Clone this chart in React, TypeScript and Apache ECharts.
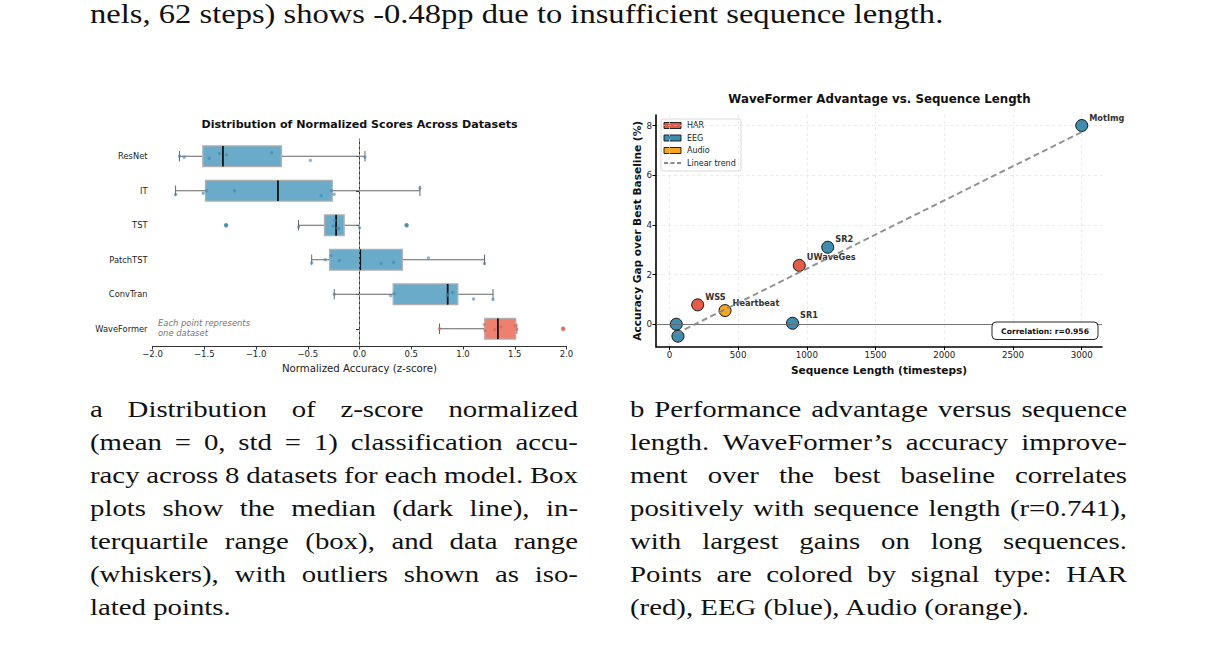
import React, { useEffect, useRef } from "react";
import * as echarts from "echarts";

// ---- Panel (a): z-score normalized accuracy per model (one value per dataset) ----
const models = ["ResNet", "IT", "TST", "PatchTST", "ConvTran", "WaveFormer"];
const resnetScores = [-1.739, -1.694, -1.453, -1.353, -1.286, -0.848, -0.475, 0.053];
const itScores = [-1.777, -1.51, -1.48, -1.206, -0.37, -0.27, -0.245, 0.584];
const tstScores = [-1.289, -0.589, -0.254, -0.237, -0.215, -0.198, 0.0, 0.455];
const patchTstScores = [-0.462, -0.33, -0.275, -0.195, 0.208, 0.33, 0.665, 1.208];
const convTranScores = [-0.244, 0.302, 0.334, 0.848, 0.856, 0.899, 1.102, 1.29];
const waveFormerScores = [0.773, 1.205, 1.212, 1.306, 1.368, 1.505, 1.52, 1.968];

// strip-plot vertical jitter, as a fraction of the category band
const stripJitter = [
  [0, 0.03, 0.06, -0.08, -0.04, -0.1, 0.12, 0.03],
  [0.11, 0.07, 0, 0, 0.14, 0, 0.1, -0.07],
  [0, 0.05, 0.02, -0.14, 0.08, 0.1, 0.07, 0],
  [0.09, 0, -0.12, 0.02, 0.11, 0.08, -0.05, 0.11],
  [0, 0.04, -0.02, 0.04, 0.0, -0.05, 0.14, 0.15],
  [0, -0.12, 0.05, 0.02, -0.05, -0.08, 0.02, 0],
];

// ---- Panel (b): accuracy gap vs sequence length ----
const datasetLabels = ["", "", "WSS", "Heartbeat", "SR1", "UWaveGes", "SR2", "MotImg"];
const seqLength = [50, 62, 206, 405, 896, 945, 1152, 3000];
const accuracyGap = [0.0, -0.48, 0.78, 0.55, 0.04, 2.37, 3.1, 8.0];
const signalType = ["EEG", "EEG", "HAR", "Audio", "EEG", "HAR", "EEG", "EEG"];
const signalTypes = ["HAR", "EEG", "Audio"];
const seqTicks = [0, 500, 1000, 1500, 2000, 2500, 3000];
const gapTicks = [0, 2, 4, 6, 8];

const SANS = "'DejaVu Sans', sans-serif";
const SERIF = "'Liberation Serif', 'Times New Roman', serif";
const BOX_BLUE = "#6AABCA";
const BOX_RED = "#EE8070";
const DOT_BLUE = "#3f86ad";
const DOT_RED = "#df5f4e";
const typeColor: Record<string, string> = { HAR: "#E25C48", EEG: "#408CAF", Audio: "#F5A623" };

function quantile(sorted: number[], p: number) {
  const pos = (sorted.length - 1) * p;
  const lo = Math.floor(pos);
  const hi = Math.ceil(pos);
  return sorted[lo] + (sorted[hi] - sorted[lo]) * (pos - lo);
}

// Tukey box statistics (1.5 IQR whiskers, linear-interpolated quartiles)
function boxStats(values: number[]) {
  const s = [...values].sort((a, b) => a - b);
  const q1 = quantile(s, 0.25);
  const med = quantile(s, 0.5);
  const q3 = quantile(s, 0.75);
  const iqr = q3 - q1;
  const loF = q1 - 1.5 * iqr;
  const hiF = q3 + 1.5 * iqr;
  const inside = s.filter((v) => v >= loF && v <= hiF);
  return {
    lo: inside[0],
    q1,
    med,
    q3,
    hi: inside[inside.length - 1],
    outliers: s.filter((v) => v < loF || v > hiF),
  };
}

const allScores = [resnetScores, itScores, tstScores, patchTstScores, convTranScores, waveFormerScores];
const stats = allScores.map(boxStats);
const boxData = stats.map((s, i) => [i, s.lo, s.q1, s.med, s.q3, s.hi]);
const stripData: number[][] = [];
allScores.forEach((arr, i) => arr.forEach((v, j) => stripData.push([i, v, stripJitter[i][j]])));
const outlierData: number[][] = [];
stats.forEach((s, i) => s.outliers.forEach((v) => outlierData.push([i, v])));

// least-squares trend and Pearson correlation
const n = seqLength.length;
const mx = seqLength.reduce((a, b) => a + b, 0) / n;
const my = accuracyGap.reduce((a, b) => a + b, 0) / n;
let sxy = 0, sxx = 0, syy = 0;
for (let i = 0; i < n; i++) {
  sxy += (seqLength[i] - mx) * (accuracyGap[i] - my);
  sxx += (seqLength[i] - mx) ** 2;
  syy += (accuracyGap[i] - my) ** 2;
}
const slope = sxy / sxx;
const intercept = my - slope * mx;
const corr = sxy / Math.sqrt(sxx * syy);
const xLo = Math.min(...seqLength);
const xHi = Math.max(...seqLength);
const trendData = [[xLo, intercept + slope * xLo], [xHi, intercept + slope * xHi]];

// matplotlib-like 5% data margins
const xPad = (xHi - xLo) * 0.05;
const yLo = Math.min(...accuracyGap);
const yHi = Math.max(...accuracyGap);
const yPad = (yHi - yLo) * 0.05;

const minus = (s: string) => s.replace("-", "\u2212");

function buildOption(): any {
  const scatterSeries = signalTypes.map((t) => ({
    type: "scatter",
    name: t,
    xAxisIndex: 1,
    yAxisIndex: 1,
    symbolSize: 12,
    z: 4,
    itemStyle: { color: typeColor[t], borderColor: "#111", borderWidth: 1, opacity: 1 },
    label: {
      show: true,
      position: "right",
      distance: 0,
      offset: [1, -8],
      formatter: (p: any) => p.data[2],
      fontFamily: SANS,
      fontWeight: "bold",
      fontSize: 8.2,
      color: "#333",
    },
    data: seqLength
      .map((x, i) => [x, accuracyGap[i], datasetLabels[i], signalType[i]])
      .filter((d) => d[3] === t),
  }));

  const legendRows = [
    { kind: "patch", label: "HAR", color: typeColor.HAR },
    { kind: "patch", label: "EEG", color: typeColor.EEG },
    { kind: "patch", label: "Audio", color: typeColor.Audio },
    { kind: "line", label: "Linear trend", color: "#8a8a8a" },
  ];
  const legendChildren: any[] = [
    {
      type: "rect",
      shape: { x: 0, y: 0, width: 80, height: 52, r: 2 },
      style: { fill: "rgba(255,255,255,0.85)", stroke: "#d0d0d0", lineWidth: 0.8 },
    },
  ];
  legendRows.forEach((r, i) => {
    const cy = 6.5 + i * 12.5;
    if (r.kind === "patch") {
      legendChildren.push({
        type: "rect",
        shape: { x: 3, y: cy - 3, width: 17, height: 6 },
        style: { fill: r.color, stroke: "#111", lineWidth: 0.9 },
      });
    } else {
      legendChildren.push({
        type: "line",
        shape: { x1: 3, y1: cy, x2: 20, y2: cy },
        style: { stroke: r.color, lineWidth: 1.8, lineDash: [4, 2.5] },
      });
    }
    legendChildren.push({
      type: "text",
      x: 26,
      y: cy,
      style: {
        text: r.label,
        fontFamily: SANS,
        fontSize: 8,
        fill: "#222",
        align: "left",
        textAlign: "left",
        verticalAlign: "middle",
        textVerticalAlign: "middle",
      },
    });
  });

  const centered = (text: string, x: number, y: number, extra: any) => ({
    type: "text",
    x,
    y,
    style: {
      text,
      fontFamily: SANS,
      align: "center",
      textAlign: "center",
      verticalAlign: "middle",
      textVerticalAlign: "middle",
      ...extra,
    },
  });

  return {
    animation: false,
    backgroundColor: "transparent",
    grid: [
      { left: 152.5, top: 139, width: 414, height: 207 },
      { left: 656, top: 115, width: 446, height: 231.7 },
    ],
    xAxis: [
      {
        type: "value",
        gridIndex: 0,
        min: -2,
        max: 2,
        interval: 0.5,
        axisLine: { show: true, onZero: false, lineStyle: { color: "#333", width: 1 } },
        axisTick: { show: true, length: 3.5, lineStyle: { color: "#333" } },
        axisLabel: {
          fontFamily: SANS,
          fontSize: 8.5,
          color: "#222",
          margin: 3.5,
          formatter: (v: number) => minus(v.toFixed(1)),
        },
        splitLine: { show: false },
        name: "Normalized Accuracy (z-score)",
        nameLocation: "middle",
        nameGap: 7.5,
        nameTextStyle: { fontFamily: SANS, fontSize: 10.2, color: "#222" },
      },
      {
        type: "value",
        gridIndex: 1,
        min: xLo - xPad,
        max: xHi + xPad,
        axisLine: { show: true, onZero: false, lineStyle: { color: "#000", width: 1.6 } },
        axisTick: { show: true, length: 3.5, customValues: seqTicks, lineStyle: { color: "#000" } },
        axisLabel: {
          fontFamily: SANS,
          fontSize: 8.7,
          color: "#222",
          margin: 4,
          customValues: seqTicks,
          formatter: (v: number) => String(v),
        },
        splitLine: { show: true, lineStyle: { color: "#e3e3e3", type: [3, 3], width: 0.7 } },
        name: "Sequence Length (timesteps)",
        nameLocation: "middle",
        nameGap: 6.5,
        nameTextStyle: { fontFamily: SANS, fontSize: 10.6, fontWeight: "bold", color: "#111" },
      },
    ],
    yAxis: [
      {
        type: "category",
        gridIndex: 0,
        data: models,
        inverse: true,
        axisLine: { show: true, lineStyle: { color: "#333", width: 1 } },
        axisTick: { show: true, length: 3.5, alignWithLabel: true, lineStyle: { color: "#333" } },
        axisLabel: { fontFamily: SANS, fontSize: 8.3, color: "#222", margin: 5 },
        splitLine: { show: false },
      },
      {
        type: "value",
        gridIndex: 1,
        min: yLo - yPad,
        max: yHi + yPad,
        axisLine: { show: true, onZero: false, lineStyle: { color: "#000", width: 1.6 } },
        axisTick: { show: true, length: 3.5, customValues: gapTicks, lineStyle: { color: "#000" } },
        axisLabel: {
          fontFamily: SANS,
          fontSize: 8.7,
          color: "#222",
          margin: 4,
          customValues: gapTicks,
          formatter: (v: number) => String(v),
        },
        splitLine: { show: true, lineStyle: { color: "#e3e3e3", type: [3, 3], width: 0.7 } },
        name: "Accuracy Gap over Best Baseline (%)",
        nameLocation: "middle",
        nameRotate: 90,
        nameGap: 10.5,
        nameTextStyle: { fontFamily: SANS, fontSize: 10.6, fontWeight: "bold", color: "#111" },
      },
    ],
    series: [
      {
        type: "custom",
        name: "boxes",
        xAxisIndex: 0,
        yAxisIndex: 0,
        encode: { x: [1, 2, 3, 4, 5], y: 0 },
        data: boxData,
        z: 2,
        renderItem: (_params: any, api: any) => {
          const cat = api.value(0);
          const lo = api.coord([api.value(1), cat]);
          const q1 = api.coord([api.value(2), cat]);
          const md = api.coord([api.value(3), cat]);
          const q3 = api.coord([api.value(4), cat]);
          const hi = api.coord([api.value(5), cat]);
          const band = api.size([0, 1])[1];
          const bh = band * 0.6;
          const ch = band * 0.3;
          const y = lo[1];
          const isOurs = cat === models.length - 1;
          const wStyle = { stroke: "#666", lineWidth: 1 };
          return {
            type: "group",
            children: [
              { type: "line", shape: { x1: lo[0], y1: y, x2: q1[0], y2: y }, style: wStyle },
              { type: "line", shape: { x1: q3[0], y1: y, x2: hi[0], y2: y }, style: wStyle },
              { type: "line", shape: { x1: lo[0], y1: y - ch / 2, x2: lo[0], y2: y + ch / 2 }, style: wStyle },
              { type: "line", shape: { x1: hi[0], y1: y - ch / 2, x2: hi[0], y2: y + ch / 2 }, style: wStyle },
              {
                type: "rect",
                shape: { x: q1[0], y: y - bh / 2, width: q3[0] - q1[0], height: bh },
                style: { fill: isOurs ? BOX_RED : BOX_BLUE, stroke: "#b0b0b0", lineWidth: 1.4 },
              },
              {
                type: "line",
                shape: { x1: md[0], y1: y - bh / 2, x2: md[0], y2: y + bh / 2 },
                style: { stroke: "#111", lineWidth: 1.8 },
              },
            ],
          };
        },
      },
      {
        type: "custom",
        name: "outliers",
        xAxisIndex: 0,
        yAxisIndex: 0,
        encode: { x: 1, y: 0 },
        data: outlierData,
        z: 3,
        renderItem: (_params: any, api: any) => {
          const cat = api.value(0);
          const p = api.coord([api.value(1), cat]);
          const isOurs = cat === models.length - 1;
          return {
            type: "circle",
            shape: { cx: p[0], cy: p[1], r: 2.2 },
            style: { fill: isOurs ? DOT_RED : DOT_BLUE, opacity: 0.8 },
          };
        },
      },
      {
        type: "custom",
        name: "datasets",
        xAxisIndex: 0,
        yAxisIndex: 0,
        encode: { x: 1, y: 0 },
        data: stripData,
        z: 4,
        renderItem: (_params: any, api: any) => {
          const cat = api.value(0);
          const p = api.coord([api.value(1), cat]);
          const band = api.size([0, 1])[1];
          const isOurs = cat === models.length - 1;
          return {
            type: "circle",
            shape: { cx: p[0], cy: p[1] + api.value(2) * band, r: 1.7 },
            style: { fill: isOurs ? DOT_RED : DOT_BLUE, opacity: 0.6 },
          };
        },
        markLine: {
          silent: true,
          symbol: ["none", "none"],
          label: { show: false },
          lineStyle: { color: "#9a9a9a", type: [3, 2], width: 0.8 },
          data: [{ xAxis: 0 }],
        },
      },
      ...scatterSeries,
      {
        type: "line",
        name: "Linear trend",
        xAxisIndex: 1,
        yAxisIndex: 1,
        data: trendData,
        showSymbol: false,
        symbol: "none",
        z: 5,
        lineStyle: { color: "rgba(128,128,128,0.85)", width: 2, type: [6, 3.5] },
        markLine: {
          silent: true,
          symbol: ["none", "none"],
          label: { show: false },
          lineStyle: { color: "#666", type: "solid", width: 0.9 },
          data: [{ yAxis: 0 }],
        },
      },
    ],
    graphic: [
      centered("Distribution of Normalized Scores Across Datasets", 359.5, 124, {
        fontSize: 11.1,
        fontWeight: "bold",
        fill: "#111",
      }),
      centered("WaveFormer Advantage vs. Sequence Length", 879.5, 99, {
        fontSize: 11.8,
        fontWeight: "bold",
        fill: "#111",
      }),
      {
        type: "text",
        x: 158,
        y: 328,
        style: {
          text: "Each point represents\none dataset",
          fontFamily: SANS,
          fontSize: 8.4,
          fontStyle: "italic",
          fill: "#777",
          lineHeight: 10,
          align: "left",
          textAlign: "left",
          verticalAlign: "middle",
          textVerticalAlign: "middle",
        },
      },
      { type: "group", x: 661, y: 119, children: legendChildren },
      {
        type: "rect",
        shape: { x: 992, y: 322, width: 106, height: 17.5, r: 4 },
        style: { fill: "#fff", stroke: "#111", lineWidth: 0.9 },
        z: 10,
      },
      { ...centered(`Correlation: r=${corr.toFixed(3)}`, 1045, 331, { fontSize: 7.6, fontWeight: "bold", fill: "#111" }), z: 11 },
    ],
  };
}

// ---- body text ----
const SX = 1.2;
const PITCH = 33;

const runningLine = "nels, 62 steps) shows -0.48pp due to insufficient sequence length.";
const captionA = [
  "a Distribution of z-score normalized",
  "(mean = 0, std = 1) classification accu-",
  "racy across 8 datasets for each model. Box",
  "plots show the median (dark line), in-",
  "terquartile range (box), and data range",
  "(whiskers), with outliers shown as iso-",
  "lated points.",
];
const captionB = [
  "b Performance advantage versus sequence",
  "length. WaveFormer\u2019s accuracy improve-",
  "ment over the best baseline correlates",
  "positively with sequence length (r=0.741),",
  "with largest gains on long sequences.",
  "Points are colored by signal type: HAR",
  "(red), EEG (blue), Audio (orange).",
];

function TextLine({
  text,
  left,
  top,
  width,
  justify,
  size,
  sx = SX,
  lineHeight = PITCH,
}: {
  text: string;
  left: number;
  top: number;
  width: number;
  justify: boolean;
  size: number;
  sx?: number;
  lineHeight?: number;
}) {
  return (
    <div
      style={{
        position: "absolute",
        left,
        top,
        width: width / sx,
        transform: `scaleX(${sx})`,
        transformOrigin: "0 0",
        display: "flex",
        justifyContent: justify ? "space-between" : "flex-start",
        whiteSpace: "pre",
        fontFamily: SERIF,
        fontSize: size,
        lineHeight: `${lineHeight}px`,
        color: "#111",
      }}
    >
      {justify ? text.split(" ").map((w, j) => <span key={j}>{w}</span>) : <span>{text}</span>}
    </div>
  );
}

function Paragraph({ lines, left, top, width }: { lines: string[]; left: number; top: number; width: number }) {
  return (
    <>
      {lines.map((ln, i) => (
        <TextLine
          key={i}
          text={ln}
          left={left}
          top={top + i * PITCH}
          width={width}
          justify={i < lines.length - 1}
          size={24}
        />
      ))}
    </>
  );
}

export default function App() {
  const ref = useRef<HTMLDivElement>(null);
  useEffect(() => {
    if (!ref.current) return;
    const chart = echarts.init(ref.current, null, { renderer: "svg" });
    chart.setOption(buildOption());
    return () => chart.dispose();
  }, []);
  return (
    <div
      style={{
        position: "fixed",
        left: 0,
        top: 0,
        width: 1218,
        height: 653,
        background: "#fff",
        overflow: "hidden",
      }}
    >
      <div ref={ref} style={{ position: "absolute", left: 0, top: 0, width: 1218, height: 385 }} />
      <TextLine text={runningLine} left={90} top={0} width={900} justify={false} size={26.5} sx={1.229} lineHeight={29.5} />
      <Paragraph lines={captionA} left={90} top={393} width={488} />
      <Paragraph lines={captionB} left={630} top={393} width={497} />
    </div>
  );
}
